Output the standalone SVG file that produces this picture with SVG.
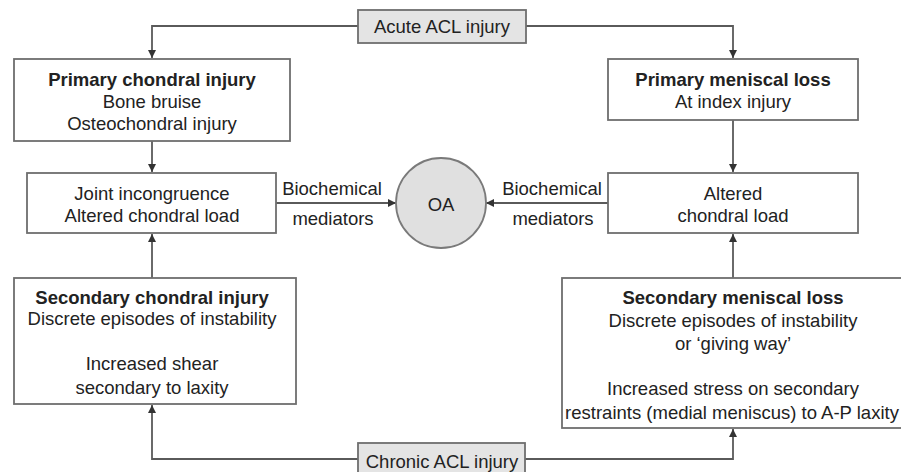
<svg xmlns="http://www.w3.org/2000/svg" width="901" height="472" viewBox="0 0 901 472">
<defs>
<style>
.box{fill:#fff;stroke:#6e6e6e;stroke-width:1.8}
.gbox{fill:#e4e4e4;stroke:#6e6e6e;stroke-width:1.8}
.circ{fill:#e0e0e0;stroke:#7a7a7a;stroke-width:1.8}
.ln{fill:none;stroke:#5a5a5a;stroke-width:1.8}
text{font-family:"Liberation Sans",Arial,sans-serif;font-size:18.5px;fill:#222;text-anchor:middle;dominant-baseline:central}
.b{font-weight:bold}
</style>
<marker id="ah" viewBox="0 0 10 10" refX="10" refY="5" markerWidth="8" markerHeight="8" markerUnits="userSpaceOnUse" orient="auto">
<path d="M0,0 L10,5 L0,10 z" fill="#333"/>
</marker>
</defs>
<rect width="901" height="472" fill="#fff"/>
<g id="connectors">
<polyline class="ln" points="358,26 152,26 152,58" marker-end="url(#ah)"/>
<polyline class="ln" points="526,26 733,26 733,58" marker-end="url(#ah)"/>
<line class="ln" x1="152" y1="141" x2="152" y2="172" marker-end="url(#ah)"/>
<line class="ln" x1="733" y1="120" x2="733" y2="172" marker-end="url(#ah)"/>
<line class="ln" x1="152" y1="278" x2="152" y2="234" marker-end="url(#ah)"/>
<line class="ln" x1="733" y1="278" x2="733" y2="234" marker-end="url(#ah)"/>
<line class="ln" x1="276" y1="203" x2="396" y2="203" marker-end="url(#ah)"/>
<line class="ln" x1="608" y1="203" x2="486" y2="203" marker-end="url(#ah)"/>
<polyline class="ln" points="358,459 152,459 152,405" marker-end="url(#ah)"/>
<polyline class="ln" points="525,459 733,459 733,429" marker-end="url(#ah)"/>
<text x="332" y="188">Biochemical</text>
<text x="333" y="218">mediators</text>
<text x="552" y="188">Biochemical</text>
<text x="553" y="218">mediators</text>
</g>
<g id="acute">
<rect class="gbox" x="358" y="10" width="168" height="33"/>
<text x="442" y="26">Acute ACL injury</text>
</g>
<g id="chronic">
<rect class="gbox" x="358" y="443" width="167" height="35"/>
<text x="442" y="461">Chronic ACL injury</text>
</g>
<g id="primary-chondral">
<rect class="box" x="14" y="59" width="276" height="82"/>
<text class="b" x="152" y="79">Primary chondral injury</text>
<text x="152" y="101">Bone bruise</text>
<text x="152" y="123">Osteochondral injury</text>
</g>
<g id="primary-meniscal">
<rect class="box" x="608" y="59" width="250" height="61"/>
<text class="b" x="733" y="79">Primary meniscal loss</text>
<text x="733" y="101">At index injury</text>
</g>
<g id="joint">
<rect class="box" x="27" y="173" width="249" height="60"/>
<text x="152" y="193">Joint incongruence</text>
<text x="152" y="215">Altered chondral load</text>
</g>
<g id="altered">
<rect class="box" x="608" y="173" width="250" height="60"/>
<text x="733" y="193">Altered</text>
<text x="733" y="215">chondral load</text>
</g>
<g id="oa">
<circle class="circ" cx="441" cy="203" r="45"/>
<text x="441" y="204">OA</text>
</g>
<g id="secondary-chondral">
<rect class="box" x="14" y="278" width="282" height="126"/>
<text class="b" x="152" y="297">Secondary chondral injury</text>
<text x="152" y="318">Discrete episodes of instability</text>
<text x="152" y="363">Increased shear</text>
<text x="152" y="387">secondary to laxity</text>
</g>
<g id="secondary-meniscal">
<rect class="box" x="562" y="278" width="345" height="150"/>
<text class="b" x="733" y="297">Secondary meniscal loss</text>
<text x="733" y="320">Discrete episodes of instability</text>
<text x="733" y="343">or ‘giving way’</text>
<text x="733" y="388">Increased stress on secondary</text>
<text x="732" y="412">restraints (medial meniscus) to A-P laxity</text>
</g>
</svg>
